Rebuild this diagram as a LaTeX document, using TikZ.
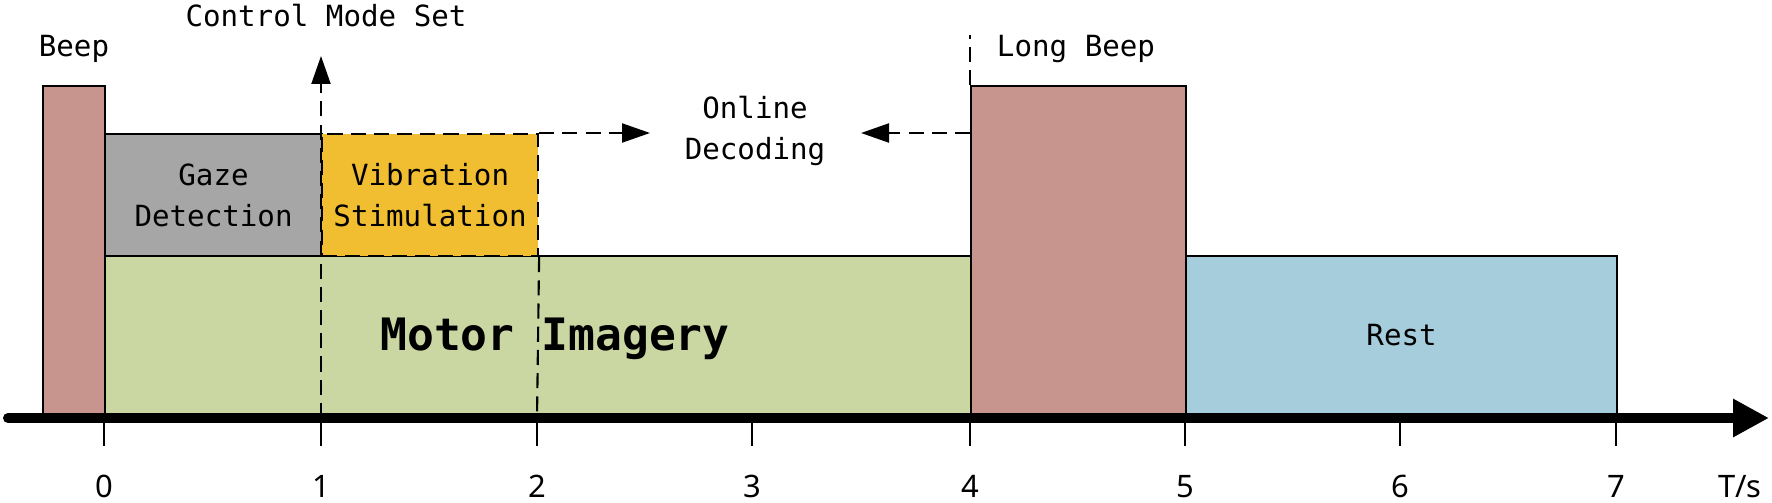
\documentclass[tikz,border=0pt]{standalone}
\usepackage{fontspec}
\usetikzlibrary{arrows.meta}
\newfontfamily\labfont{DejaVu Sans Mono}
\newfontfamily\numfont{Noto Sans}
\definecolor{beepc}{RGB}{200,148,142}
\definecolor{gazec}{RGB}{166,166,166}
\definecolor{vibc}{RGB}{240,190,48}
\definecolor{motorc}{RGB}{203,215,163}
\definecolor{restc}{RGB}{166,205,219}
\begin{document}
\begin{tikzpicture}[x=0.1mm,y=-0.1mm,
  box/.style={draw, line width=0.6pt, inner sep=0pt, anchor=north west,
    font=\labfont\fontsize{8.3pt}{11.7pt}\selectfont, align=center},
  dashline/.style={dash pattern=on 4.3pt off 2.3pt, line width=0.6pt},
  arr/.style={-{Triangle[length=2.8mm,width=1.9mm]}},
  lab/.style={font=\labfont\fontsize{8.3pt}{11.4pt}\selectfont, align=center, inner sep=0pt},
  num/.style={font=\numfont\fontsize{8.8pt}{10pt}\selectfont, anchor=base, inner sep=0pt},
  tickline/.style={line width=0.6pt}]
\useasboundingbox (0,0) rectangle (1772,502);
% boxes
\node[box, fill=motorc, minimum width=86.6mm, minimum height=15.8mm] (motor) at (104,255) {};
\node[box, fill=gazec, minimum width=21.7mm, minimum height=12.2mm] (gaze) at (104,133) {Gaze\\Detection};
\node[box, fill=vibc, dashline, minimum width=21.6mm, minimum height=12.2mm] (vib) at (321,133) {Vibration\\Stimulation};
\node[box, fill=beepc, minimum width=6.2mm, minimum height=32.8mm] (beep) at (42,85) {};
\node[box, fill=beepc, minimum width=21.5mm, minimum height=32.8mm] (lbeep) at (970,85) {};
\node[box, fill=restc, minimum width=43.1mm, minimum height=15.8mm] (rest) at (1185,255) {Rest};
% axis coordinates
\coordinate (axL) at (8,418);
\coordinate (axR) at (1769,418);
\coordinate (t0) at (104,418);
\coordinate (t1) at (321,418);
\coordinate (t2) at (537,418);
\coordinate (t3) at (752,418);
\coordinate (t4) at (970,418);
\coordinate (t5) at (1185,418);
\coordinate (t6) at (1400,418);
\coordinate (t7) at (1616,418);
% dashed connectors
\coordinate (cmsTip) at (321,56);
\coordinate (odR) at (650,133);
\coordinate (odL) at (861,133);
\coordinate (lbTop) at (970,35);
\draw[dashline, arr] (t1) -- (cmsTip);
\draw[dashline] (vib.south east) -- (t2);
\draw[dashline, arr] (vib.north east) -- (odR);
\draw[dashline, arr] (lbeep.west |- odL) -- (odL);
\draw[dashline] (lbeep.north west) -- (lbTop);
% axis
\draw[line width=2.85pt, line cap=round, -{Triangle[length=3.6mm,width=3.6mm]}] (axL) -- (axR);
\foreach \t in {t0,t1,t2,t3,t4,t5,t6,t7} \draw[tickline] (\t) -- ++(0,28);
% labels
\node[lab, anchor=base] (beeplab) at (74,57) {Beep};
\node[lab, anchor=base] (cmslab) at (326,27) {Control Mode Set};
\node[lab, anchor=base] (lblab) at (1076,57) {Long Beep};
\node[lab] (od) at (755,131) {Online\\Decoding};
\node[font=\labfont\bfseries\fontsize{12.7pt}{14pt}\selectfont, inner sep=0pt, anchor=base] (motorlab) at (555,350) {Motor Imagery};
\node[num] (n0) at (104,497) {0};
\node[num] (n1) at (321,497) {1};
\node[num] (n2) at (537,497) {2};
\node[num] (n3) at (752,497) {3};
\node[num] (n4) at (970,497) {4};
\node[num] (n5) at (1185,497) {5};
\node[num] (n6) at (1400,497) {6};
\node[num] (n7) at (1616,497) {7};
\node[num] (ts) at (1740,497) {T/s};
\end{tikzpicture}
\end{document}
